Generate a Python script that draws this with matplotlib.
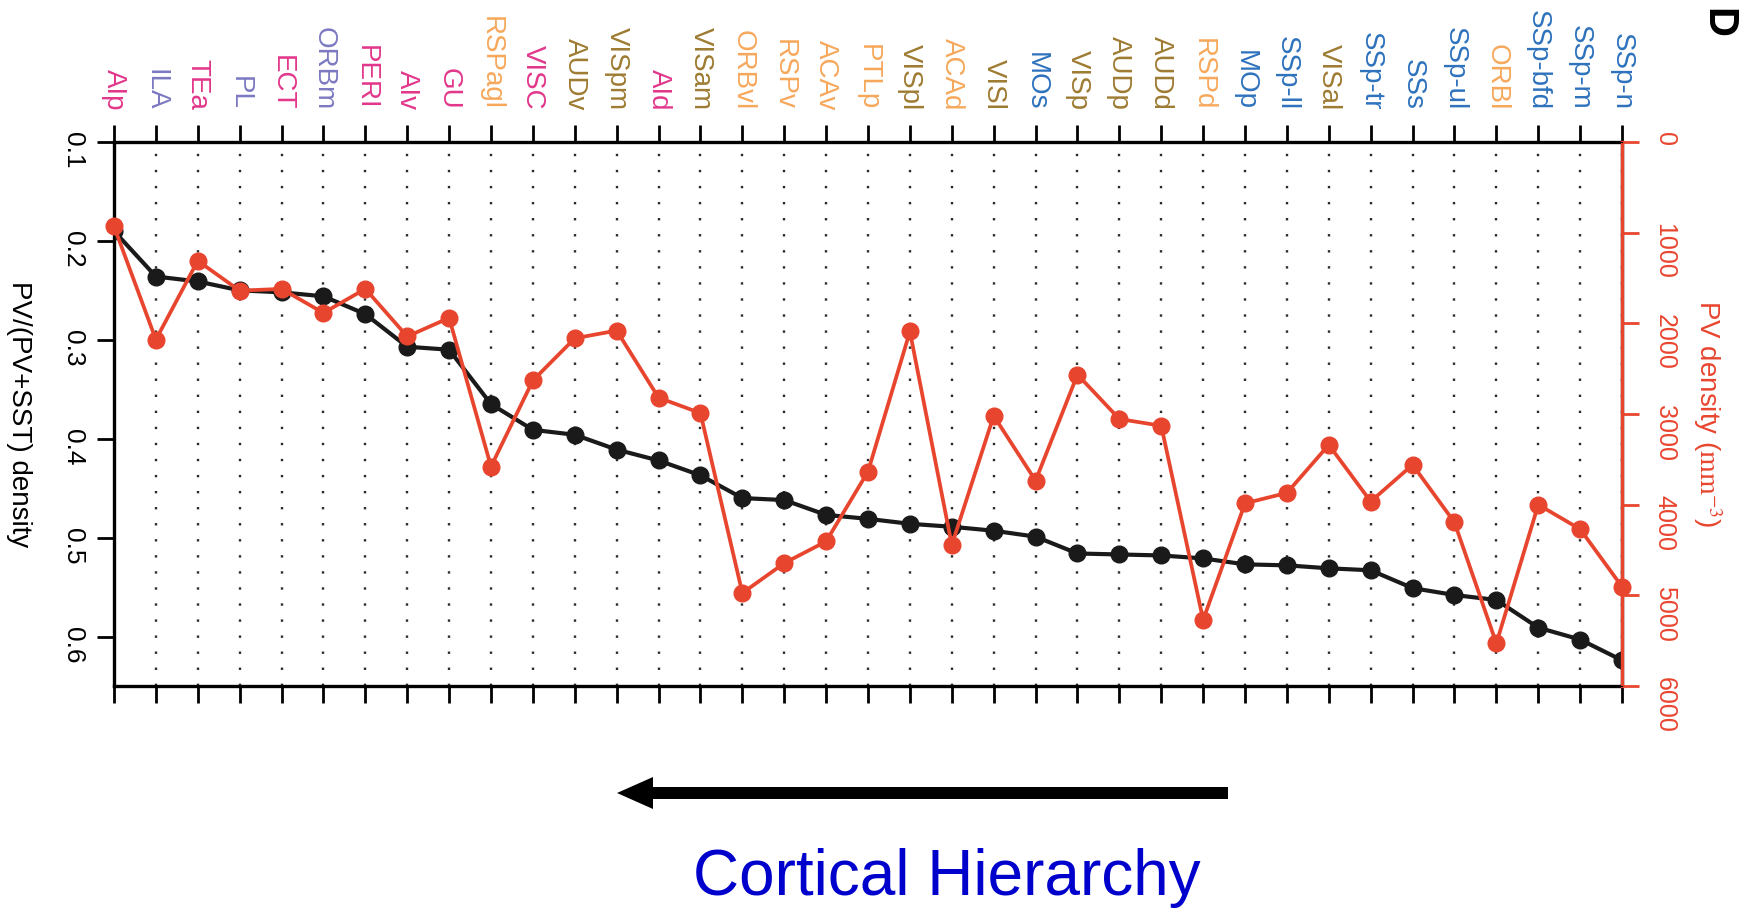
import matplotlib
matplotlib.use("Agg")
import matplotlib.pyplot as plt
from matplotlib.patches import FancyArrow
import numpy as np

plt.rcParams['font.family'] = ['Liberation Sans', 'DejaVu Sans']
plt.rcParams['mathtext.fontset'] = 'stix'

# cortical areas, ordered along the hierarchy
areas = ['AIp', 'ILA', 'TEa', 'PL', 'ECT', 'ORBm', 'PERI', 'AIv', 'GU', 'RSPagl',
         'VISC', 'AUDv', 'VISpm', 'AId', 'VISam', 'ORBvl', 'RSPv', 'ACAv', 'PTLp',
         'VISpl', 'ACAd', 'VISl', 'MOs', 'VISp', 'AUDp', 'AUDd', 'RSPd', 'MOp',
         'SSp-ll', 'VISal', 'SSp-tr', 'SSs', 'SSp-ul', 'ORBl', 'SSp-bfd', 'SSp-m',
         'SSp-n']
# module of each area (sets label colour)
modules = ['lat', 'pfc', 'lat', 'pfc', 'lat', 'pfc', 'lat', 'lat', 'lat', 'med',
           'lat', 'aud', 'aud', 'lat', 'aud', 'med', 'med', 'med', 'med',
           'aud', 'med', 'aud', 'som', 'aud', 'aud', 'aud', 'med', 'som',
           'som', 'aud', 'som', 'som', 'som', 'med', 'som', 'som',
           'som']

ratio = [0.190, 0.236, 0.241, 0.250, 0.252, 0.256, 0.274, 0.307, 0.310, 0.365,
         0.391, 0.396, 0.411, 0.422, 0.437, 0.460, 0.462, 0.477, 0.481,
         0.486, 0.489, 0.493, 0.499, 0.516, 0.517, 0.518, 0.521, 0.527,
         0.528, 0.531, 0.533, 0.551, 0.558, 0.563, 0.591, 0.603, 0.624]
pv_density = [930, 2180, 1310, 1640, 1620, 1885, 1620, 2145, 1940, 3580,
              2630, 2165, 2080, 2820, 2990, 4975, 4645, 4405, 3635,
              2090, 4445, 3020, 3735, 2565, 3055, 3130, 5270, 3985,
              3870, 3340, 3965, 3560, 4195, 5530, 4000, 4270, 4905]

module_colors = {'lat': '#E2378B', 'pfc': '#7C79C2', 'med': '#F6A85C',
                 'aud': '#9E7B32', 'som': '#2E72BD'}
red = '#E8452F'

fig = plt.figure(figsize=(17.43, 9.09), dpi=100)
ax = fig.add_axes([0.0654, 0.2453, 0.8652, 0.5985])
x = np.arange(len(areas))

ax.plot(x, ratio, '-o', color='#1a1a1a', lw=3, markersize=12, zorder=3)
ax.set_xlim(0, len(areas) - 1)
ax.set_ylim(0.65, 0.1)
ax.set_yticks([0.1, 0.2, 0.3, 0.4, 0.5, 0.6])
ax.set_yticklabels(['0.1', '0.2', '0.3', '0.4', '0.5', '0.6'])
ax.set_ylabel('PV/(PV+SST) density', fontsize=20, rotation=-90, labelpad=30,
              va='center')

ax.set_xticks(x)
ax.set_xticklabels(areas, rotation=-90, fontsize=20)
ax.xaxis.tick_top()
ax.tick_params(axis='x', top=True, bottom=True, labeltop=True, labelbottom=False,
               direction='out', length=12, width=2, pad=11)
for lab, m in zip(ax.get_xticklabels(), modules):
    lab.set_color(module_colors[m])
ax.tick_params(axis='y', direction='out', length=12, width=2, labelsize=19,
               labelrotation=-90, pad=9)
ax.grid(axis='x', color='#2a2a2a', lw=1.7, linestyle=(0, (1, 5.8)))
for s in ax.spines.values():
    s.set_linewidth(2.4)

ax2 = ax.twinx()
ax2.plot(x, pv_density, '-o', color=red, lw=2.7, markersize=12, zorder=4,
         clip_on=False)
ax2.set_ylim(6000, 0)
ax2.set_yticks(range(0, 7000, 1000))
ax2.tick_params(axis='y', colors=red, direction='out', length=12, width=2,
                labelsize=18, labelrotation=-90, pad=10)
ax2.spines['right'].set_color(red)
ax2.spines['right'].set_linewidth(2.4)
ax2.set_ylabel(r'PV density ($\mathrm{mm}^{-3}$)', color=red, fontsize=20,
               rotation=-90, labelpad=22, va='center')

fig.text(0.9855, 0.975, 'D', fontsize=30, fontweight='bold', rotation=-90,
         ha='center', va='center')

# hierarchy arrow pointing left, below the axes
arrow = FancyArrow(12.28, 1.16, -6.11, 0, width=0.12, head_width=0.32,
                   head_length=0.36, length_includes_head=True,
                   transform=fig.dpi_scale_trans, color='black', lw=0)
fig.add_artist(arrow)
fig.text(0.5433, 0.034, 'Cortical Hierarchy', fontsize=46, color='#0000CC',
         ha='center', va='center')

fig.savefig('out.png', dpi=100)
